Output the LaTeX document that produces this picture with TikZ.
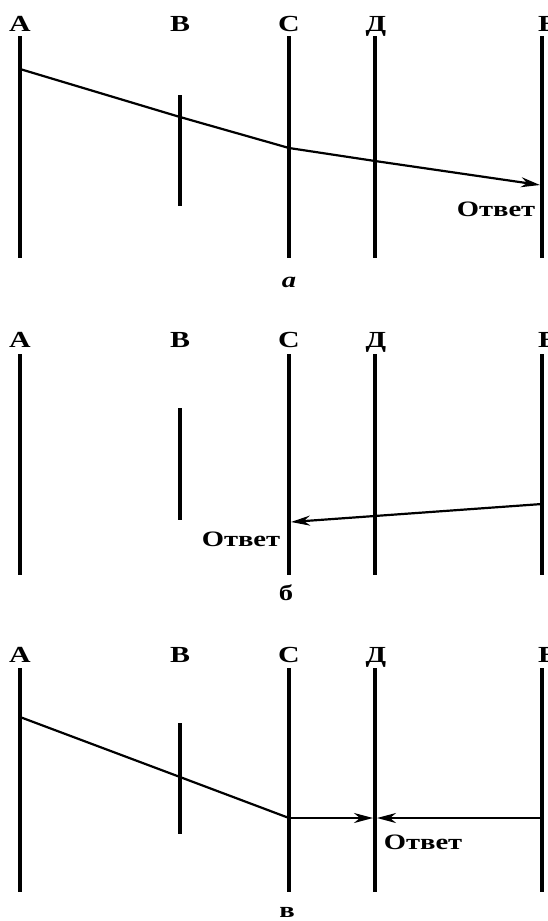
\documentclass[tikz,border=0pt]{standalone}
\usepackage{fontspec}
\setmainfont{Liberation Serif}[FakeStretch=1.3]
\usetikzlibrary{arrows.meta}
\begin{document}
\begin{tikzpicture}[x=1pt,y=-1pt,
  wall/.style={line width=4.5pt},
  ray/.style={line width=2.2pt,line join=round},
  tipped/.style={-{Stealth[length=19pt,width=10pt,inset=6pt]}},
  lbl/.style={font=\fontsize{23}{23}\selectfont\bfseries,inner sep=0pt,anchor=base},
  ans/.style={font=\fontsize{22}{22}\selectfont\bfseries,inner sep=0pt},
  panelcap/.style={font=\fontsize{22}{22}\selectfont\bfseries,inner sep=0pt,anchor=base}]
\useasboundingbox (0,0) rectangle (547,921);

% ---------------- panel a ----------------
\node[lbl] (aLA) at (20,31) {А};
\node[lbl] (aLB) at (180,31) {В};
\node[lbl] (aLC) at (289,31) {С};
\node[lbl] (aLD) at (376,31) {Д};
\node[lbl] (aLE) at (548,31) {Е};
\coordinate (aAt) at (20,36);  \coordinate (aAb) at (20,258);
\coordinate (aBt) at (180,95); \coordinate (aBb) at (180,206);
\coordinate (aCt) at (289,36); \coordinate (aCb) at (289,258);
\coordinate (aDt) at (375,36); \coordinate (aDb) at (375,258);
\coordinate (aEt) at (542,36); \coordinate (aEb) at (542,258);
\draw[wall] (aAt) -- (aAb);
\draw[wall] (aBt) -- (aBb);
\draw[wall] (aCt) -- (aCb);
\draw[wall] (aDt) -- (aDb);
\draw[wall] (aEt) -- (aEb);
\coordinate (apA) at (20,69);
\coordinate (apB) at (180,117);
\coordinate (apC) at (289,148);
\coordinate (apD) at (375,161);
\coordinate (apE) at (540,185);
\draw[ray,tipped] (apA) -- (apB) -- (apC) -- (apD) -- (apE);
\node[ans] (aAns) at (496,209) {Ответ};
\node[panelcap,font=\fontsize{22}{22}\selectfont\bfseries\itshape] (aCap) at (289,287) {а};

% ---------------- panel b ----------------
\node[lbl] (bLA) at (20,347) {А};
\node[lbl] (bLB) at (180,347) {В};
\node[lbl] (bLC) at (289,347) {С};
\node[lbl] (bLD) at (376,347) {Д};
\node[lbl] (bLE) at (548,347) {Е};
\coordinate (bAt) at (20,354);  \coordinate (bAb) at (20,575);
\coordinate (bBt) at (180,408); \coordinate (bBb) at (180,520);
\coordinate (bCt) at (289,354); \coordinate (bCb) at (289,575);
\coordinate (bDt) at (375,354); \coordinate (bDb) at (375,575);
\coordinate (bEt) at (542,354); \coordinate (bEb) at (542,575);
\draw[wall] (bAt) -- (bAb);
\draw[wall] (bBt) -- (bBb);
\draw[wall] (bCt) -- (bCb);
\draw[wall] (bDt) -- (bDb);
\draw[wall] (bEt) -- (bEb);
\coordinate (bpE) at (542,504);
\coordinate (bpC) at (291,522);
\draw[ray,tipped] (bpE) -- (bpC);
\node[ans] (bAns) at (241,539) {Ответ};
\node[panelcap] (bCap) at (286,600) {б};

% ---------------- panel c ----------------
\node[lbl] (cLA) at (20,662) {А};
\node[lbl] (cLB) at (180,662) {В};
\node[lbl] (cLC) at (289,662) {С};
\node[lbl] (cLD) at (376,662) {Д};
\node[lbl] (cLE) at (548,662) {Е};
\coordinate (cAt) at (20,668);  \coordinate (cAb) at (20,892);
\coordinate (cBt) at (180,723); \coordinate (cBb) at (180,834);
\coordinate (cCt) at (289,668); \coordinate (cCb) at (289,892);
\coordinate (cDt) at (375,668); \coordinate (cDb) at (375,892);
\coordinate (cEt) at (542,668); \coordinate (cEb) at (542,892);
\draw[wall] (cAt) -- (cAb);
\draw[wall] (cBt) -- (cBb);
\draw[wall] (cCt) -- (cCb);
\draw[wall] (cDt) -- (cDb);
\draw[wall] (cEt) -- (cEb);
\coordinate (cpA) at (20,717);
\coordinate (cpB) at (180,777);
\coordinate (cpC) at (289,818);
\coordinate (cpDl) at (373,818);
\coordinate (cpDr) at (377,818);
\coordinate (cpE) at (542,818);
\draw[ray] (cpA) -- (cpB) -- (cpC);
\draw[ray,tipped] (cpC) -- (cpDl);
\draw[ray,tipped] (cpE) -- (cpDr);
\node[ans] (cAns) at (423,842) {Ответ};
\node[panelcap] (cCap) at (287,917) {в};
\end{tikzpicture}
\end{document}
